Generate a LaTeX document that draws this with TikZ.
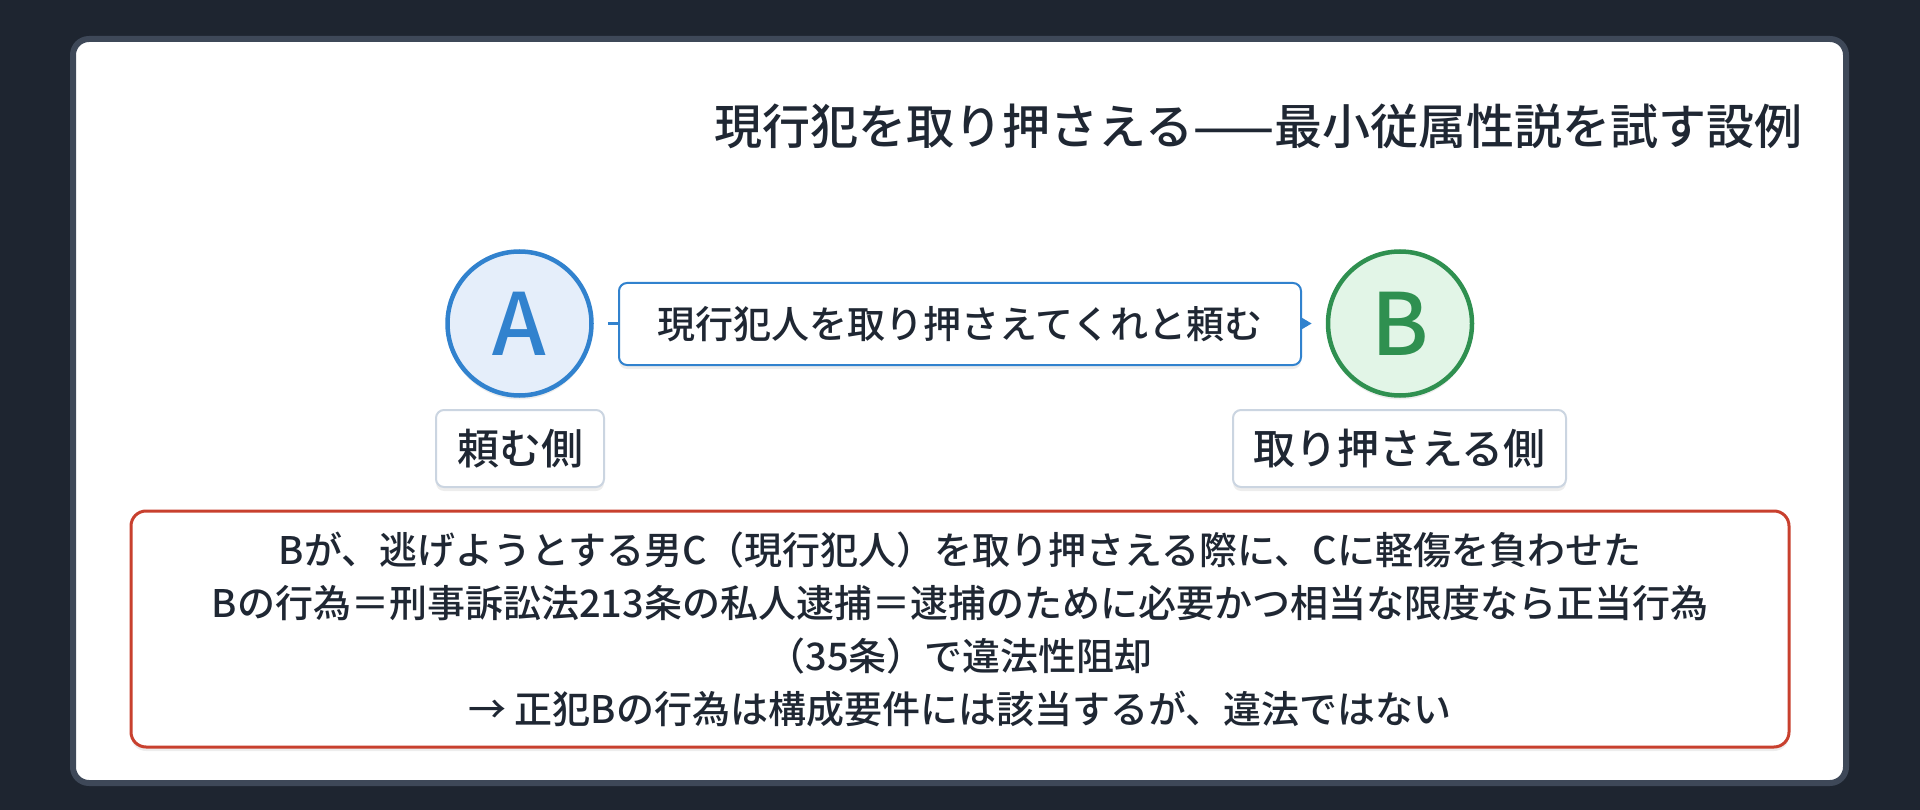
\documentclass[tikz,border=0pt]{standalone}
\usepackage{fontspec}
\setmainfont{Noto Sans CJK JP Medium}[BoldFont=Noto Sans CJK JP Bold]
\usetikzlibrary{arrows.meta,shadows}
\definecolor{bg}{HTML}{1E2530}
\definecolor{cardborder}{HTML}{3E4858}
\definecolor{ink}{HTML}{1F2733}
\definecolor{blueA}{HTML}{3182CE}
\definecolor{blueFill}{HTML}{E5EEFA}
\definecolor{greenB}{HTML}{2F9050}
\definecolor{greenFill}{HTML}{E2F5E7}
\definecolor{redbox}{HTML}{C8402E}
\definecolor{graybox}{HTML}{CBD5E1}
\tikzset{
  softshadow/.style={drop shadow={shadow xshift=0pt, shadow yshift=-4pt, opacity=0.07, fill=black}},
  person/.style={circle, line width=4.5pt, minimum size=144pt, inner sep=0pt, softshadow,
    font=\fontsize{86}{86}\selectfont},
  labelbox/.style={draw=graybox, line width=2pt, fill=white, rounded corners=8pt,
    minimum height=77pt, inner sep=0pt, text=ink, softshadow, font=\fontsize{42}{42}\selectfont},
  reqbox/.style={draw=blueA, line width=2pt, fill=white, rounded corners=8pt,
    minimum height=82pt, inner sep=0pt, text=ink, softshadow, font=\fontsize{38}{38}\selectfont},
  notebox/.style={draw=redbox, line width=3pt, fill=white, rounded corners=15pt,
    inner sep=0pt, text=ink, softshadow, align=center, font=\fontsize{38}{53}\selectfont},
  connector/.style={blueA, line width=2.5pt, -{Triangle[length=11pt,width=12pt]},
    shorten <=14pt, shorten >=14pt}
}
\begin{document}
\begin{tikzpicture}[x=1pt,y=-1pt]
\useasboundingbox (0,0) rectangle (1920,810);
\fill[bg] (0,0) rectangle (1920,810);
\draw[cardborder, line width=6pt, fill=white, rounded corners=16pt] (73,39) rectangle (1846,783);

\node[anchor=east, text=ink, font=\fontsize{48}{48}\selectfont] (title) at (1806,126)
  {現行犯を取り押さえる——最小従属性説を試す設例};

\node[person, draw=blueA, fill=blueFill, text=blueA] (A) at (519.5,323.5) {A};
\node[person, draw=greenB, fill=greenFill, text=greenB] (B) at (1400,323.5) {B};

\draw[connector] (A) -- (B);
\node[reqbox, minimum width=682pt] (req) at (960,324) {現行犯人を取り押さえてくれと頼む};

\node[labelbox, minimum width=168pt] (la) at (520,448.5) {頼む側};
\node[labelbox, minimum width=333pt] (lb) at (1399.5,448.5) {取り押さえる側};

\node[notebox, minimum width=1658pt, minimum height=236pt] (note) at (960,629)
  {Bが、逃げようとする男C（現行犯人）を取り押さえる際に、Cに軽傷を負わせた\\
   Bの行為＝刑事訴訟法213条の私人逮捕＝逮捕のために必要かつ相当な限度なら正当行為\\
   （35条）で違法性阻却\\
   → 正犯Bの行為は構成要件には該当するが、違法ではない};
\end{tikzpicture}
\end{document}
